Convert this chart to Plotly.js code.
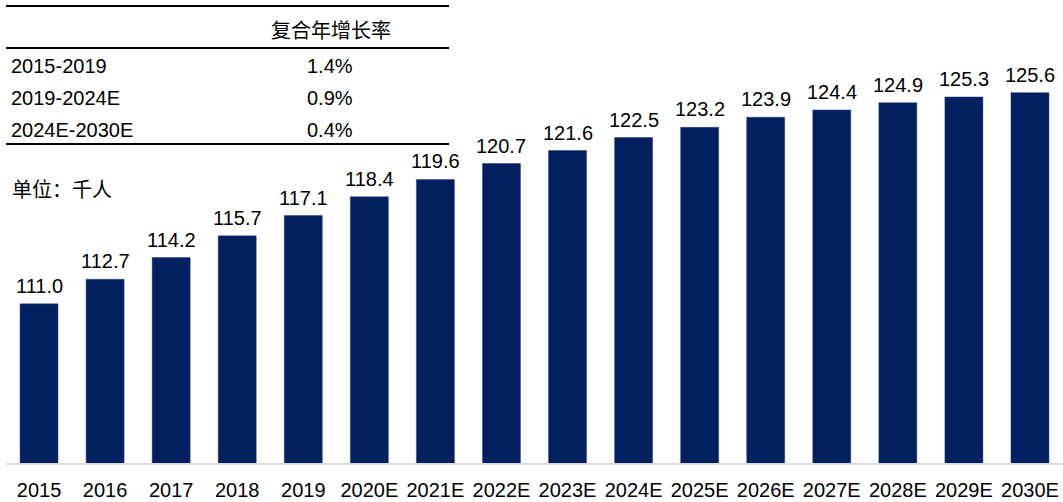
<!DOCTYPE html>
<html>
<head>
<meta charset="utf-8">
<script src="https://cdn.plot.ly/plotly-3.0.1.min.js"></script>
<style>html,body{margin:0;padding:0;background:#fff;}#chart{width:1063px;height:502px;}</style>
</head>
<body>
<div id="chart"></div>
<script>
const years = ["2015","2016","2017","2018","2019","2020E","2021E","2022E","2023E","2024E","2025E","2026E","2027E","2028E","2029E","2030E"];
const values = [111.0,112.7,114.2,115.7,117.1,118.4,119.6,120.7,121.6,122.5,123.2,123.9,124.4,124.9,125.3,125.6];
const cagrHeader = "复合年增长率";
const cagrPeriods = ["2015-2019","2019-2024E","2024E-2030E"];
const cagrRates = ["1.4%","0.9%","0.4%"];
const unitLabel = "单位：千人";

const W = 1063, H = 502;
const M = {l: 6, r: 0, t: 29, b: 39};
const PW = W - M.l - M.r, PH = H - M.t - M.b;
const px = x => (x - M.l) / PW;
const py = y => (H - M.b - y) / PH;

const FONT = '"Liberation Sans", Arial, "Noto Sans CJK SC", sans-serif';
const CJK = '"Noto Sans CJK SC", "Liberation Sans", sans-serif';
const FS = 20;

const annotations = [];
values.forEach((v, i) => {
  annotations.push({
    x: i, y: v, xref: 'x', yref: 'y', text: v.toFixed(1),
    showarrow: false, yanchor: 'bottom', yshift: 5,
    font: {family: FONT, size: FS, color: '#000'}
  });
});
annotations.push({x: px(331), y: py(29), xref: 'paper', yref: 'paper', text: cagrHeader,
  showarrow: false, xanchor: 'center', yanchor: 'middle', font: {family: CJK, size: FS, color: '#000'}});
const rowY = [66, 98, 130];
cagrPeriods.forEach((p, i) => {
  annotations.push({x: px(9), y: py(rowY[i]), xref: 'paper', yref: 'paper', text: p,
    showarrow: false, xanchor: 'left', yanchor: 'middle', font: {family: FONT, size: FS, color: '#000'}});
  annotations.push({x: px(330), y: py(rowY[i]), xref: 'paper', yref: 'paper', text: cagrRates[i],
    showarrow: false, xanchor: 'center', yanchor: 'middle', font: {family: FONT, size: FS, color: '#000'}});
});
annotations.push({x: px(10), y: py(188), xref: 'paper', yref: 'paper', text: unitLabel,
  showarrow: false, xanchor: 'left', yanchor: 'middle', font: {family: CJK, size: FS, color: '#000'}});

const shapes = [6, 48, 144].map(y => ({
  type: 'line', xref: 'paper', yref: 'paper', x0: px(6), x1: px(449), y0: py(y), y1: py(y),
  line: {color: '#000', width: 2}
}));

const data = [{
  type: 'bar', x: years.map((_, i) => i), y: values,
  marker: {color: '#002060', line: {color: '#2a3f75', width: 0.5}},
  hoverinfo: 'skip'
}];

const layout = {
  width: W, height: H,
  margin: M,
  paper_bgcolor: '#fff', plot_bgcolor: '#fff',
  bargap: 0.425,
  showlegend: false,
  xaxis: {
    type: 'linear', range: [-0.5, years.length - 0.5],
    tickmode: 'array', tickvals: years.map((_, i) => i), ticktext: years,
    showline: true, linecolor: '#d9d9d9', linewidth: 1.5,
    ticks: 'outside', ticklen: 8, tickcolor: 'rgba(0,0,0,0)',
    tickfont: {family: FONT, size: FS, color: '#000'},
    showgrid: false, zeroline: false, fixedrange: true
  },
  yaxis: {
    range: [100, 130], visible: false, showgrid: false, zeroline: false, fixedrange: true
  },
  annotations: annotations,
  shapes: shapes
};

Plotly.newPlot('chart', data, layout, {displayModeBar: false, staticPlot: true});
</script>
</body>
</html>
